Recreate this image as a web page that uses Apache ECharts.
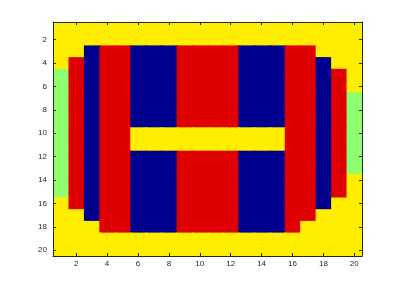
<!DOCTYPE html>
<html><head><meta charset="utf-8">
<script src="https://cdn.jsdelivr.net/npm/echarts@6/dist/echarts.min.js"></script>
<style>html,body{margin:0;padding:0;background:#fff}#c{width:400px;height:287px}</style>
</head><body><div id="c"></div>
<script>
// Image rows (row 1 at top), one letter per column 1..20
var imageRows = [
  "YYYYYYYYYYYYYYYYYYYY",
  "YYYYYYYYYYYYYYYYYYYY",
  "YYBRRBBBRRRRBBBRRYYY",
  "YRBRRBBBRRRRBBBRRBYY",
  "GRBRRBBBRRRRBBBRRBRY",
  "GRBRRBBBRRRRBBBRRBRY",
  "GRBRRBBBRRRRBBBRRBRG",
  "GRBRRBBBRRRRBBBRRBRG",
  "GRBRRBBBRRRRBBBRRBRG",
  "GRBRRYYYYYYYYYYRRBRG",
  "GRBRRYYYYYYYYYYRRBRG",
  "GRBRRBBBRRRRBBBRRBRG",
  "GRBRRBBBRRRRBBBRRBRG",
  "GRBRRBBBRRRRBBBRRBRY",
  "GRBRRBBBRRRRBBBRRBRY",
  "YRBRRBBBRRRRBBBRRBYY",
  "YYBRRBBBRRRRBBBRRYYY",
  "YYYRRBBBRRRRBBBRYYYY",
  "YYYYYYYYYYYYYYYYYYYY",
  "YYYYYYYYYYYYYYYYYYYY"
];
var colorKeys = ["B", "G", "Y", "R"];
var colorValues = ["#00008F", "#8FFF70", "#FFEE00", "#DF0000"];
var xTicks = [2, 4, 6, 8, 10, 12, 14, 16, 18, 20];
var yTicks = [2, 4, 6, 8, 10, 12, 14, 16, 18, 20];

var cells = [];
imageRows.forEach(function (row, r) {
  for (var c = 0; c < row.length; c++) {
    cells.push([c + 1, r + 1, row.charAt(c)]);
  }
});
var colorMap = {};
colorKeys.forEach(function (k, i) { colorMap[k] = colorValues[i]; });
var nCols = imageRows[0].length, nRows = imageRows.length;

var axisLine = { show: true, lineStyle: { color: '#262626', width: 1 } };
var tickStyle = { inside: true, length: 3, lineStyle: { color: '#262626' } };
var labelStyle = { color: '#262626', fontFamily: 'Liberation Sans', fontSize: 8 };

var chart = echarts.init(document.getElementById('c'), null, { renderer: 'canvas' });
chart.setOption({
  animation: false,
  grid: { left: 53, right: 38, top: 22, bottom: 31 },
  xAxis: [
    { type: 'value', min: 0.5, max: 20.5, position: 'bottom', splitLine: { show: false }, z: 10,
      axisLine: axisLine, axisTick: Object.assign({ customValues: xTicks }, tickStyle),
      axisLabel: Object.assign({ customValues: xTicks, margin: 4 }, labelStyle) },
    { type: 'value', min: 0.5, max: 20.5, position: 'top', splitLine: { show: false }, z: 10,
      axisLine: axisLine, axisTick: Object.assign({ customValues: xTicks }, tickStyle),
      axisLabel: { show: false } }
  ],
  yAxis: [
    { type: 'value', min: 0.5, max: 20.5, inverse: true, position: 'left', splitLine: { show: false }, z: 10,
      axisLine: axisLine, axisTick: Object.assign({ customValues: yTicks }, tickStyle),
      axisLabel: Object.assign({ customValues: yTicks, margin: 6 }, labelStyle) },
    { type: 'value', min: 0.5, max: 20.5, inverse: true, position: 'right', splitLine: { show: false }, z: 10,
      axisLine: axisLine, axisTick: Object.assign({ customValues: yTicks }, tickStyle),
      axisLabel: { show: false } }
  ],
  series: [{
    type: 'custom',
    xAxisIndex: 0, yAxisIndex: 0,
    data: cells,
    z: 1,
    renderItem: function (params, api) {
      var x = api.value(0), y = api.value(1);
      var p0 = api.coord([x - 0.5, y - 0.5]);
      var p1 = api.coord([x + 0.5, y + 0.5]);
      var key = imageRows[y - 1].charAt(x - 1);
      var col = colorMap[key];
      var extW = x < nCols ? 1.5 : 0;
      var extH = y < nRows ? 1.5 : 0;
      return {
        type: 'rect',
        shape: { x: p0[0], y: p0[1], width: p1[0] - p0[0] + extW, height: p1[1] - p0[1] + extH },
        style: { fill: col }
      };
    }
  }]
});
</script></body></html>
